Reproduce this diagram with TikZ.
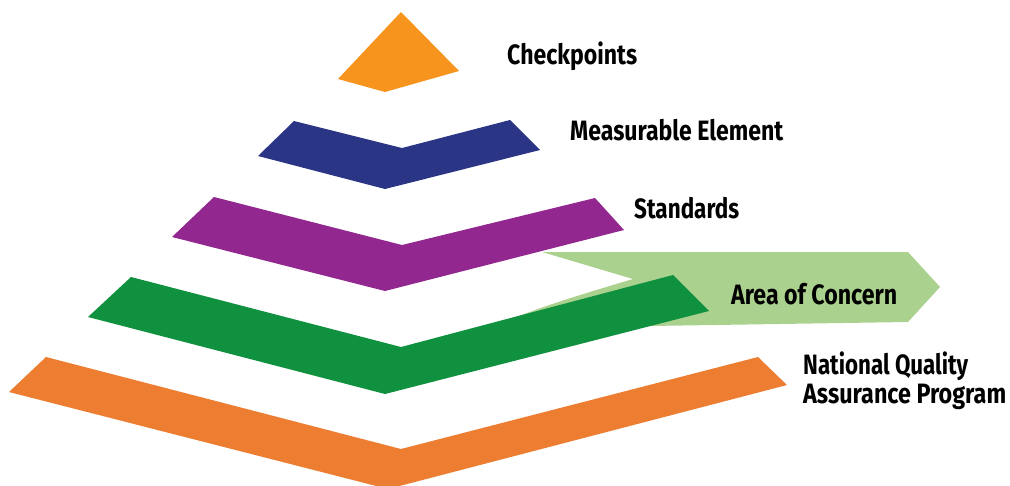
\documentclass[tikz,border=0pt]{standalone}
\usepackage{fontspec}
\usepackage{graphicx}
\setmainfont{Fira Sans}
\definecolor{cTop}{HTML}{F7941D}
\definecolor{cNavy}{HTML}{2B3586}
\definecolor{cPurple}{HTML}{92278F}
\definecolor{cGreen}{HTML}{10913F}
\definecolor{cOrange}{HTML}{ED7D31}
\definecolor{cLight}{HTML}{ABD18F}
\newcommand{\fitlbl}[2]{\resizebox{#1pt}{\height}{\fontsize{28}{30}\selectfont\bfseries #2}}
\tikzset{lbl/.style={anchor=base west, inner sep=0pt, text=black}}
\begin{document}
\begin{tikzpicture}[x=1pt,y=-1pt]
\useasboundingbox (0,0) rectangle (1010,485);
% light green arrow
\fill[cLight] (542,252) -- (908,252) -- (940,287) -- (908,322) -- (650,326) -- (500,324)
  .. controls (540,306) and (600,289) .. (633,279) -- cycle;
% top triangle
\fill[cTop] (401,12) -- (459,71) -- (385,92) -- (338,79) -- cycle;
% navy chevron
\fill[cNavy] (294,121) -- (402,148) -- (510,120) -- (540,150) -- (385,189) -- (258,156) -- cycle;
% purple chevron
\fill[cPurple] (214,197) -- (402,245) -- (595,198) -- (624,230) -- (385,291) -- (172,237) -- cycle;
% green chevron
\fill[cGreen] (131,277) -- (401,347) -- (673,275) -- (709,311) -- (385,394) -- (88,317) -- cycle;
% orange chevron
\begin{scope}
\clip (0,0) rectangle (1010,485);
\fill[cOrange] (46,357) -- (401,449) -- (758,357) -- (787,385) -- (388,489) -- (9,392) -- cycle;
\end{scope}
% labels
\node[lbl] (chk) at (507,64) {\fitlbl{130}{Checkpoints}};
\node[lbl] (me) at (570,140) {\fitlbl{213}{Measurable Element}};
\node[lbl] (std) at (634,218) {\fitlbl{105}{Standards}};
\node[lbl] (aoc) at (731,304) {\fitlbl{166}{Area of Concern}};
\node[lbl] (nq1) at (803,374) {\fitlbl{165}{National Quality}};
\node[lbl] (nq2) at (803,403) {\fitlbl{203}{Assurance Program}};
\end{tikzpicture}
\end{document}
